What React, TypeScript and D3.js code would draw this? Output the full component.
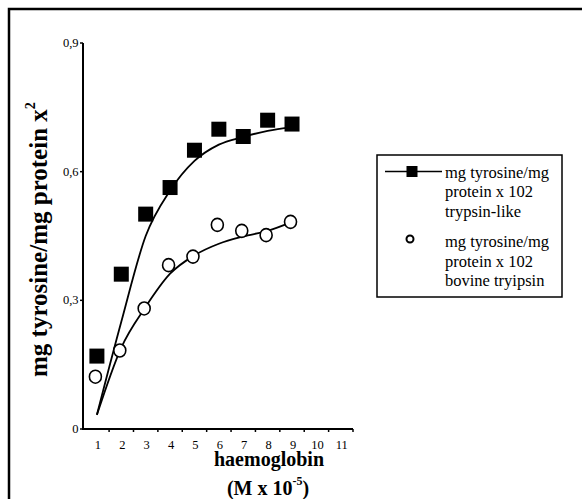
import React, { useEffect, useRef } from "react";
import * as d3 from "d3";

// readings
const xCats = [1, 2, 3, 4, 5, 6, 7, 8, 9, 10, 11];
const yTicks = [0, 0.3, 0.6, 0.9];
const trypsinLike = [0.17, 0.361, 0.501, 0.563, 0.65, 0.699, 0.682, 0.72, 0.711];
const bovine = [0.122, 0.183, 0.281, 0.382, 0.402, 0.476, 0.462, 0.452, 0.483];
const trypsinFit = [0.033, 0.25, 0.45, 0.556, 0.625, 0.663, 0.681, 0.695, 0.704];
const bovineFit = [0.033, 0.19, 0.285, 0.362, 0.405, 0.432, 0.449, 0.462, 0.483];
const legendItems = [
  ["mg tyrosine/mg", "protein x 102", "trypsin-like"],
  ["mg tyrosine/mg", "protein x 102", "bovine tryipsin"],
];

const W = 582;
const H = 499;
const FONT = "'Liberation Serif', 'Times New Roman', serif";

export default function App() {
  const ref = useRef<SVGSVGElement>(null);

  useEffect(() => {
    const svg = d3.select(ref.current);
    svg.selectAll("*").remove();

    // outer frame (only top/left visible in the picture)
    svg.append("rect")
      .attr("x", 9).attr("y", 9)
      .attr("width", W + 20).attr("height", H + 20)
      .attr("fill", "none").attr("stroke", "#000").attr("stroke-width", 2.5);

    const x = d3.scaleLinear().domain([0.43, 11.5]).range([83, 353]);
    const y = d3.scaleLinear().domain([0, 0.9]).range([429, 43]);

    const g = svg.append("g").style("font-family", FONT);

    // y axis
    g.append("line")
      .attr("x1", x(0.43)).attr("x2", x(0.43))
      .attr("y1", y(0.9)).attr("y2", y(0))
      .attr("stroke", "#000").attr("stroke-width", 2);
    yTicks.forEach((t) => {
      g.append("line")
        .attr("x1", 80).attr("x2", 83)
        .attr("y1", y(t)).attr("y2", y(t))
        .attr("stroke", "#000").attr("stroke-width", 1.5);
      g.append("text")
        .attr("x", 78.5).attr("y", y(t) + 4)
        .attr("text-anchor", "end")
        .attr("font-size", 12.5)
        .text(t === 0 ? "0" : d3.format(".1f")(t).replace(".", ","));
    });

    // x axis
    g.append("line")
      .attr("x1", x(0.43) - 1).attr("x2", x(11.5))
      .attr("y1", y(0)).attr("y2", y(0))
      .attr("stroke", "#000").attr("stroke-width", 2);
    xCats.forEach((c) => {
      g.append("line")
        .attr("x1", x(c + 0.5)).attr("x2", x(c + 0.5))
        .attr("y1", y(0)).attr("y2", y(0) + 3)
        .attr("stroke", "#000").attr("stroke-width", 1.5);
      g.append("text")
        .attr("x", x(c) + 1).attr("y", 449)
        .attr("text-anchor", "middle")
        .attr("font-size", 12.5)
        .text(c);
    });

    // axis titles
    g.append("text")
      .attr("x", 269).attr("y", 466)
      .attr("text-anchor", "middle")
      .attr("font-size", 20).attr("font-weight", "bold")
      .text("haemoglobin");
    const xt = g.append("text")
      .attr("x", 268).attr("y", 495)
      .attr("text-anchor", "middle")
      .attr("font-size", 20).attr("font-weight", "bold");
    xt.append("tspan").text("(M x 10");
    xt.append("tspan").attr("font-size", 12).attr("dy", -10).text("-5");
    xt.append("tspan").attr("dy", 10).text(")");

    const yt = g.append("text")
      .attr("transform", "translate(47,377) rotate(-90)")
      .attr("font-size", 25).attr("font-weight", "bold");
    yt.append("tspan").text("mg tyrosine/mg protein x");
    yt.append("tspan").attr("font-size", 14).attr("dy", -12).text("2");

    // fitted curves
    const line = d3.line<number>()
      .x((_, i) => x(i + 1))
      .y((d) => y(d))
      .curve(d3.curveMonotoneX);
    [trypsinFit, bovineFit].forEach((s) => {
      g.append("path")
        .attr("d", line(s))
        .attr("fill", "none").attr("stroke", "#000").attr("stroke-width", 1.8);
    });

    // markers
    g.selectAll("rect.sq")
      .data(trypsinLike)
      .join("rect")
      .attr("class", "sq")
      .attr("x", (_, i) => x(i + 1) - 7.5)
      .attr("y", (d) => y(d) - 7.5)
      .attr("width", 15).attr("height", 15)
      .attr("fill", "#000");
    g.selectAll("ellipse.ci")
      .data(bovine)
      .join("ellipse")
      .attr("class", "ci")
      .attr("cx", (_, i) => x(i + 1) - 1.5)
      .attr("cy", (d) => y(d))
      .attr("rx", 6).attr("ry", 6.5)
      .attr("fill", "#fff").attr("stroke", "#000").attr("stroke-width", 1.6);

    // legend
    const lg = g.append("g");
    lg.append("rect")
      .attr("x", 377).attr("y", 155)
      .attr("width", 185).attr("height", 142)
      .attr("fill", "#fff").attr("stroke", "#000").attr("stroke-width", 1.5);
    lg.append("line")
      .attr("x1", 385).attr("x2", 442).attr("y1", 171.5).attr("y2", 171.5)
      .attr("stroke", "#000").attr("stroke-width", 1.5);
    lg.append("rect")
      .attr("x", 406.5).attr("y", 166).attr("width", 11).attr("height", 11)
      .attr("fill", "#000");
    lg.append("circle")
      .attr("cx", 410).attr("cy", 239).attr("r", 3.5)
      .attr("fill", "#fff").attr("stroke", "#000").attr("stroke-width", 2);
    legendItems.forEach((lines, k) => {
      lines.forEach((t, j) => {
        lg.append("text")
          .attr("x", 445)
          .attr("y", 177.5 + k * 69.5 + j * 19.6)
          .attr("font-size", 16.5)
          .text(t);
      });
    });
  }, []);

  return (
    <svg
      ref={ref}
      width={W}
      height={H}
      style={{ position: "absolute", left: 0, top: 0, background: "#fff" }}
    />
  );
}
